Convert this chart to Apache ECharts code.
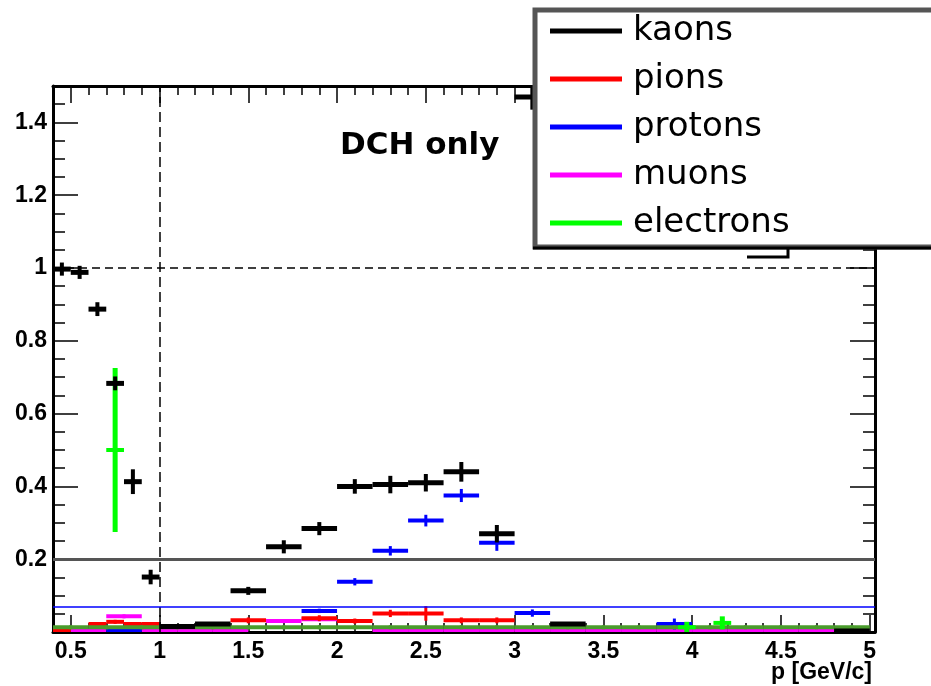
<!DOCTYPE html>
<html><head><meta charset="utf-8">
<script src="https://cdn.jsdelivr.net/npm/echarts@6/dist/echarts.min.js"></script>
<style>html,body{margin:0;padding:0;background:#fff}#c{width:931px;height:686px}</style>
</head><body><div id="c"></div>
<script>
// each point: [p centre, value, half bin width, vertical error]
const kaons = [
  [0.45, 0.997, 0.05, 0.018], [0.55, 0.988, 0.05, 0.018], [0.65, 0.887, 0.05, 0.019],
  [0.75, 0.683, 0.05, 0.019], [0.85, 0.413, 0.05, 0.034], [0.95, 0.151, 0.05, 0.020],
  [1.1, 0.015, 0.1, 0.004], [1.3, 0.022, 0.1, 0.004],
  [1.5, 0.113, 0.1, 0.011], [1.7, 0.234, 0.1, 0.018], [1.9, 0.284, 0.1, 0.018],
  [2.1, 0.400, 0.1, 0.020], [2.3, 0.405, 0.1, 0.024], [2.5, 0.410, 0.1, 0.024],
  [2.7, 0.440, 0.1, 0.027], [2.9, 0.270, 0.1, 0.024], [3.1, 1.470, 0.1, 0.035],
  [3.3, 0.022, 0.1, 0.004], [4.9, 0.003, 0.1, 0.002]
];
const pions = [
  [0.45, 0.003, 0.05, 0.002], [0.65, 0.022, 0.05, 0.004], [0.75, 0.028, 0.05, 0.005],
  [0.85, 0.022, 0.05, 0.004], [0.95, 0.022, 0.05, 0.004],
  [1.5, 0.032, 0.1, 0.008], [1.9, 0.038, 0.1, 0.008], [2.1, 0.030, 0.1, 0.007],
  [2.3, 0.051, 0.1, 0.010], [2.5, 0.051, 0.1, 0.020], [2.7, 0.032, 0.1, 0.008],
  [2.9, 0.032, 0.1, 0.008]
];
const protons = [
  [0.8, 0.003, 0.1, 0.002], [1.9, 0.058, 0.1, 0.006], [2.1, 0.138, 0.1, 0.010],
  [2.3, 0.223, 0.1, 0.013], [2.5, 0.306, 0.1, 0.016], [2.7, 0.375, 0.1, 0.018],
  [2.9, 0.245, 0.1, 0.022], [3.1, 0.052, 0.1, 0.010], [3.9, 0.022, 0.1, 0.015]
];
const muons = [
  [0.6, 0.003, 0.1, 0.002], [0.8, 0.043, 0.1, 0.004], [1.0, 0.003, 0.1, 0.002],
  [1.2, 0.003, 0.1, 0.002], [1.4, 0.003, 0.1, 0.002], [1.7, 0.030, 0.1, 0.004],
  [1.9, 0.035, 0.1, 0.004], [2.3, 0.003, 0.1, 0.002], [2.5, 0.003, 0.1, 0.002],
  [2.7, 0.003, 0.1, 0.002], [2.9, 0.003, 0.1, 0.002], [3.1, 0.003, 0.1, 0.002],
  [3.3, 0.003, 0.1, 0.002], [3.5, 0.003, 0.1, 0.002], [3.7, 0.003, 0.1, 0.002],
  [3.9, 0.003, 0.1, 0.002], [4.1, 0.003, 0.1, 0.002], [4.3, 0.003, 0.1, 0.002],
  [4.5, 0.003, 0.1, 0.002], [4.7, 0.003, 0.1, 0.002]
];
const electrons = [
  [0.75, 0.500, 0.05, 0.225], [3.97, 0.013, 0.05, 0.015], [4.17, 0.025, 0.05, 0.018]
];
const electronsLow = [
  [0.5, 0.013, 0.1, 0.002], [0.7, 0.013, 0.1, 0.002], [0.9, 0.013, 0.1, 0.002],
  [1.1, 0.013, 0.1, 0.002], [1.3, 0.013, 0.1, 0.002], [1.5, 0.013, 0.1, 0.002],
  [1.7, 0.013, 0.1, 0.002], [1.9, 0.013, 0.1, 0.002], [2.1, 0.013, 0.1, 0.002],
  [2.3, 0.013, 0.1, 0.002], [2.5, 0.013, 0.1, 0.002], [2.7, 0.013, 0.1, 0.002],
  [2.9, 0.013, 0.1, 0.002], [3.1, 0.013, 0.1, 0.002], [3.3, 0.013, 0.1, 0.002],
  [3.5, 0.013, 0.1, 0.002], [3.7, 0.013, 0.1, 0.002], [3.9, 0.013, 0.1, 0.002],
  [4.1, 0.013, 0.1, 0.002], [4.3, 0.013, 0.1, 0.002], [4.5, 0.013, 0.1, 0.002],
  [4.7, 0.013, 0.1, 0.002], [4.9, 0.013, 0.1, 0.002]
];
const seriesNames = ['kaons', 'pions', 'protons', 'muons', 'electrons'];
const xTitle = 'p [GeV/c]';
const xLabels = [0.5, 1, 1.5, 2, 2.5, 3, 3.5, 4, 4.5, 5];
const xMinorTicks = [0.4, 0.6, 0.7, 0.8, 0.9, 1.1, 1.2, 1.3, 1.4, 1.6, 1.7, 1.8, 1.9,
  2.1, 2.2, 2.3, 2.4, 2.6, 2.7, 2.8, 2.9, 3.1, 3.2, 3.3, 3.4, 3.6, 3.7, 3.8, 3.9,
  4.1, 4.2, 4.3, 4.4, 4.6, 4.7, 4.8, 4.9];
const yLabels = [0.2, 0.4, 0.6, 0.8, 1, 1.2, 1.4];
const yMajorTicks = [0, 0.2, 0.4, 0.6, 0.8, 1, 1.2, 1.4];
const yMinorTicks = [0.05, 0.1, 0.15, 0.25, 0.3, 0.35, 0.45, 0.5, 0.55, 0.65, 0.7, 0.75,
  0.85, 0.9, 0.95, 1.05, 1.1, 1.15, 1.25, 1.3, 1.35, 1.45];
const dashedLinesY = [1];
const dashedLinesX = [1];
const grayLineY = [0.2];
const blueLineY = [0.065];

const X_MIN = 0.4, X_MAX = 5.03, Y_MIN = 0, Y_MAX = 1.5;
const FONT = 'Liberation Sans';

function errRenderer(hw, vw) {
  return function (params, api) {
    const x = api.value(0), y = api.value(1), ex = api.value(2), ey = api.value(3);
    const l = api.coord([x - ex, y]), r = api.coord([x + ex, y]);
    const t = api.coord([x, y + ey]), b = api.coord([x, y - ey]);
    const c = api.visual('color');
    return {
      type: 'group',
      children: [
        { type: 'line', shape: { x1: l[0], y1: l[1], x2: r[0], y2: r[1] }, style: { stroke: c, lineWidth: hw } },
        { type: 'line', shape: { x1: t[0], y1: Math.min(t[1], l[1] - 2), x2: b[0], y2: Math.max(b[1], l[1] + 2) }, style: { stroke: c, lineWidth: vw } }
      ]
    };
  };
}
function errSeries(name, data, color, hw, vw) {
  return {
    type: 'custom', name: name, data: data, clip: true,
    encode: { x: 0, y: 1 },
    itemStyle: { color: color },
    renderItem: errRenderer(hw, vw),
    silent: true
  };
}

function xAxisDef(pos, ticks, len, showLine, labels) {
  return {
    type: 'value', position: pos, min: X_MIN, max: X_MAX,
    axisLine: { show: showLine, onZero: false, lineStyle: { color: '#000', width: 3 } },
    axisTick: { show: true, inside: true, length: len, customValues: ticks, lineStyle: { color: '#000', width: 1.5 } },
    axisLabel: labels ? { show: true, customValues: labels, margin: 8, color: '#000',
      fontFamily: FONT, fontWeight: 'bold', fontSize: 23, formatter: v => String(v) } : { show: false },
    splitLine: { show: false }
  };
}
function yAxisDef(pos, ticks, len, showLine, labels) {
  return {
    type: 'value', position: pos, min: Y_MIN, max: Y_MAX,
    axisLine: { show: showLine, onZero: false, lineStyle: { color: '#000', width: 3 } },
    axisTick: { show: true, inside: true, length: len, customValues: ticks, lineStyle: { color: '#000', width: 1.5 } },
    axisLabel: labels ? { show: true, customValues: labels, margin: 6, color: '#000',
      fontFamily: FONT, fontWeight: 'bold', fontSize: 23, formatter: v => String(v) } : { show: false },
    splitLine: { show: false }
  };
}

const xAxes = [
  xAxisDef('bottom', xLabels, 17, true, xLabels),
  xAxisDef('bottom', xMinorTicks, 9, false, null),
  xAxisDef('top', xLabels, 17, true, null),
  xAxisDef('top', xMinorTicks, 9, false, null)
];

const yAxes = [
  yAxisDef('left', yMajorTicks, 25, true, yLabels),
  yAxisDef('left', yMinorTicks, 12, false, null),
  yAxisDef('right', yMajorTicks, 25, true, null),
  yAxisDef('right', yMinorTicks, 12, false, null)
];

const refSeries = {
  type: 'line', data: [], silent: true,
  markLine: {
    silent: true, symbol: ['none', 'none'], label: { show: false },
    data: [
      ...dashedLinesY.map(v => ({ yAxis: v, lineStyle: { color: '#000', width: 1.5, type: [8, 5] } })),
      ...dashedLinesX.map(v => ({ xAxis: v, lineStyle: { color: '#000', width: 1.5, type: [10, 5] } })),
      ...grayLineY.map(v => ({ yAxis: v, lineStyle: { color: '#555', width: 3, type: 'solid' } })),
      ...blueLineY.map(v => ({ yAxis: v, lineStyle: { color: '#0000ff', width: 1.5, type: 'solid' } }))
    ]
  }
};

const chart = echarts.init(document.getElementById('c'), null, { renderer: 'canvas' });
chart.setOption({
  animation: false,
  backgroundColor: '#fff',
  grid: { left: 53, right: 56, top: 86, bottom: 54, containLabel: false, outerBoundsMode: 'none' },
  xAxis: xAxes,
  yAxis: yAxes,
  title: {
    text: 'DCH only', left: 340, top: 130, padding: 0,
    textStyle: { fontFamily: 'DejaVu Sans', fontWeight: 'bold', fontSize: 31, color: '#000' }
  },
  legend: {
    data: seriesNames.map(n => ({ name: n, icon: 'rect' })),
    orient: 'vertical', left: 550, top: 14, z: 101,
    itemWidth: 72, itemHeight: 5, itemGap: 14, padding: 0,
    selectedMode: false,
    textStyle: { fontFamily: 'DejaVu Sans', fontSize: 34, lineHeight: 34, color: '#000', padding: [0, 0, 0, 6] }
  },
  graphic: [
    { type: 'rect', z: 100, shape: { x: 535, y: 10, width: 420, height: 237 },
      style: { fill: '#fff', stroke: '#555', lineWidth: 5 } },
    { type: 'line', z: 100, shape: { x1: 533, y1: 248, x2: 931, y2: 248 }, style: { stroke: '#000', lineWidth: 3 } },
    { type: 'polyline', z: 100, shape: { points: [[747, 257], [788, 257], [788, 249]] }, style: { stroke: '#000', lineWidth: 3, fill: null } },
    { type: 'text', z: 100, x: 872, y: 673,
      style: { text: xTitle, fill: '#000', font: 'bold 23px "Liberation Sans"', textAlign: 'right', textVerticalAlign: 'middle' } }
  ],
  series: [
    refSeries,
    errSeries('muons', muons, '#ff00ff', 4, 3),
    errSeries('protons', protons, '#0000ff', 4, 3),
    errSeries('pions', pions, '#ff0000', 4, 3),
    errSeries('electronsLow', electronsLow, '#4a9c2c', 4, 3),
    errSeries('electrons', electrons, '#00ff00', 4, 5),
    errSeries('kaons', kaons, '#000000', 5, 4)
  ]
});
</script>
</body></html>
